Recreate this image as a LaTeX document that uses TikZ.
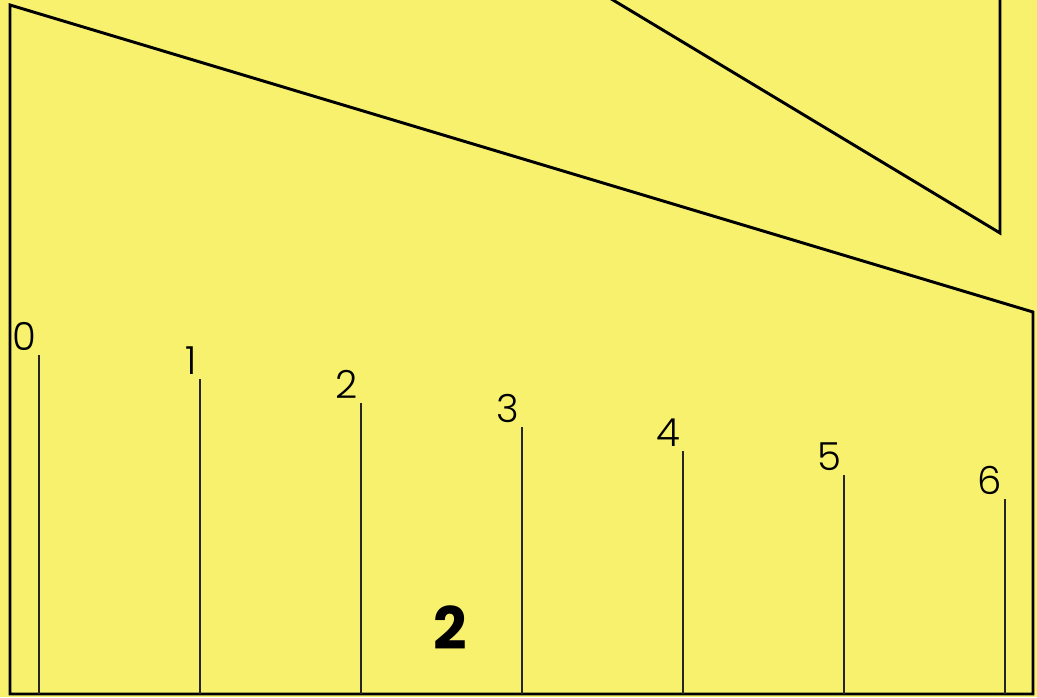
\documentclass[tikz,border=0pt]{standalone}
\usepackage{fontspec}
\usepackage{tikz}
\newfontfamily\digitfont{Poppins}
\newfontfamily\thindigitfont{Poppins Light}
\definecolor{pad}{RGB}{247,241,110}

\begin{document}
\begin{tikzpicture}[x=0.75pt,y=-0.75pt,
  outline/.style={line width=2.2pt,black},
  tickline/.style={line width=1.7pt,black!85},
  ticklabel/.style={anchor=south east,inner sep=0pt,font=\thindigitfont\fontsize{29}{29}\selectfont}]
\useasboundingbox (0,0) rectangle (1037,697);
\fill [pad] (0,0) rectangle (1037,697);
\clip (0,0) rectangle (1037,697);

\coordinate (A) at (10,5);
\coordinate (B) at (1033,312);
\coordinate (C) at (1033,694);
\coordinate (D) at (10,694);
\draw [outline,line join=miter] (B) -- (A) -- (D) -- (C) -- cycle;

\coordinate (E) at (608,-3);
\coordinate (F) at (1000,233);
\coordinate (G) at (1000,-3);
\draw [outline] (E) -- (F) -- (G);

\foreach \i in {0,...,6} {
  \coordinate (t\i) at (39+161*\i,355+24*\i);
  \coordinate (b\i) at (39+161*\i,694);
  \draw [tickline] (b\i) -- (t\i);
  \node (l\i) [ticklabel] at ([xshift=-2pt,yshift=3pt]t\i) {\i};
}

\node (big) at (450,628) {\digitfont\bfseries\fontsize{44}{44}\selectfont 2};
\end{tikzpicture}
\end{document}
